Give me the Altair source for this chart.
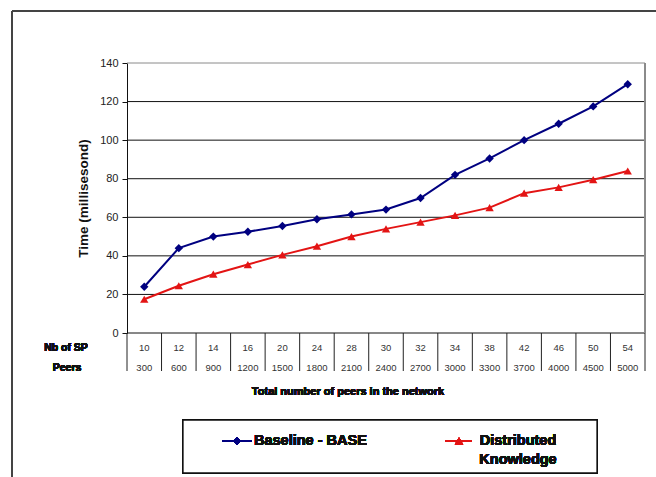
import altair as alt
import pandas as pd

# Super-peer counts and total peers for each test run (two-row category axis)
nb_sp = [10, 12, 14, 16, 20, 24, 28, 30, 32, 34, 38, 42, 46, 50, 54]
peers = [300, 600, 900, 1200, 1500, 1800, 2100, 2400, 2700, 3000, 3300, 3700, 4000, 4500, 5000]

# Response time in milliseconds
baseline = [24, 44, 50, 52.5, 55.5, 59, 61.5, 64, 70, 82, 90.5, 100, 108.5, 117.5, 129]
distributed = [17.5, 24.5, 30.5, 35.5, 40.5, 45, 50, 54, 57.5, 61, 65, 72.5, 75.5, 79.5, 84]

# Y-axis tick values
y_ticks = [0, 20, 40, 60, 80, 100, 120, 140]

S_BASE = "Baseline - BASE"
S_DIST = "Distributed Knowledge"
BLUE = "#000080"
RED = "#E31414"
FONT = "Arial"

W, H = 518, 270
n = len(nb_sp)

rows = []
for i in range(n):
    rows.append({"idx": i + 0.5, "time": baseline[i], "series": S_BASE})
    rows.append({"idx": i + 0.5, "time": distributed[i], "series": S_DIST})
df = pd.DataFrame(rows)

table = pd.DataFrame({"idx": [i + 0.5 for i in range(n)], "nb_sp": nb_sp, "peers": peers})
bounds = pd.DataFrame({"b": list(range(n + 1))})
grid = pd.DataFrame({"v": y_ticks})

xs = alt.Scale(domain=[0, n], nice=False, zero=False)
ys = alt.Scale(domain=[0, 140], nice=False)
color = alt.Scale(domain=[S_BASE, S_DIST], range=[BLUE, RED])
shape = alt.Scale(domain=[S_BASE, S_DIST], range=["diamond", "triangle-up"])

# Horizontal gridlines (top one is the lighter plot border) plus the y axis
grid_lines = alt.Chart(grid).mark_rule(strokeWidth=1).encode(
    y=alt.Y(
        "v:Q",
        scale=ys,
        axis=alt.Axis(
            values=y_ticks,
            tickCount=len(y_ticks),
            grid=False,
            labelOverlap=False,
            domainColor="#111111",
            tickColor="#111111",
            tickSize=5,
            labelFont=FONT,
            labelFontSize=11,
            labelColor="#222222",
            labelPadding=4,
            title="Time (millisesond)",
            titleFont=FONT,
            titleFontSize=13.5,
            titleFontWeight="bold",
            titleColor="#111111",
            titleX=-44,
            titleY=H / 2,
            titleAlign="center",
            titleBaseline="middle",
        ),
    ),
    x=alt.value(0),
    x2=alt.value(W),
    color=alt.condition("datum.v === 140", alt.value("#8a8a8a"), alt.value("#111111")),
)

base = alt.Chart(df)

lines = base.mark_line(strokeWidth=2).encode(
    x=alt.X("idx:Q", scale=xs, axis=None),
    y=alt.Y("time:Q", scale=ys),
    color=alt.Color("series:N", scale=color, legend=None),
    detail="series:N",
)

points = base.mark_point(filled=True, opacity=1).encode(
    x=alt.X("idx:Q", scale=xs),
    y=alt.Y("time:Q", scale=ys),
    color=alt.Color("series:N", scale=color, legend=None),
    shape=alt.Shape("series:N", scale=shape, legend=None),
    size=alt.value(70),
)

# Category table below the plot
row1 = alt.Chart(table).mark_text(font=FONT, fontSize=9.5, color="#333333", baseline="middle").encode(
    x=alt.X("idx:Q", scale=xs), y=alt.value(285), text="nb_sp:N"
)
row2 = alt.Chart(table).mark_text(font=FONT, fontSize=9.5, color="#333333", baseline="middle").encode(
    x=alt.X("idx:Q", scale=xs), y=alt.value(305), text="peers:N"
)
seps = alt.Chart(bounds).mark_rule(color="#222222", strokeWidth=1).encode(
    x=alt.X("b:Q", scale=xs), y=alt.value(H), y2=alt.value(H + 38)
)
right_border = alt.Chart(bounds).mark_rule(color="#8a8a8a", strokeWidth=1).encode(
    x=alt.value(W), y=alt.value(0), y2=alt.value(H)
)

label_style = dict(font=FONT, fontWeight="bold", color="#111111", baseline="middle", align="center")
lab_sp = alt.Chart(table).mark_text(fontSize=10.5, **label_style).encode(
    x=alt.value(-61), y=alt.value(285), text=alt.value("Nb of SP")
)
lab_peers = alt.Chart(table).mark_text(fontSize=10.5, **label_style).encode(
    x=alt.value(-60), y=alt.value(305), text=alt.value("Peers")
)
x_title = alt.Chart(table).mark_text(fontSize=11, **label_style).encode(
    x=alt.value(221), y=alt.value(329), text=alt.value("Total number of peers in the network")
)

# Outer frame (left and top edges)
frame_v = alt.Chart(bounds).mark_rule(color="#444444", strokeWidth=1.5).encode(
    x=alt.value(-115), y=alt.value(-52), y2=alt.value(420)
)
frame_h = alt.Chart(bounds).mark_rule(color="#444444", strokeWidth=1.5).encode(
    x=alt.value(-115), x2=alt.value(540), y=alt.value(-52)
)

# Legend box
leg_font = dict(font=FONT, fontSize=14.5, fontWeight="bold", color="#111111", baseline="middle")
leg_box = alt.Chart(bounds).mark_rect(fill="white", stroke="#111111", strokeWidth=1.3).encode(
    x=alt.value(56), x2=alt.value(470), y=alt.value(357), y2=alt.value(410)
)
leg_line_b = alt.Chart(bounds).mark_rule(color=BLUE, strokeWidth=2).encode(
    x=alt.value(95), x2=alt.value(125), y=alt.value(378)
)
leg_pt_b = alt.Chart(bounds).mark_point(filled=True, opacity=1, shape="diamond", color=BLUE, size=60).encode(
    x=alt.value(110), y=alt.value(378)
)
leg_txt_b = alt.Chart(bounds).mark_text(align="left", **leg_font).encode(
    x=alt.value(127), y=alt.value(378), text=alt.value(S_BASE)
)
leg_line_r = alt.Chart(bounds).mark_rule(color=RED, strokeWidth=2).encode(
    x=alt.value(318), x2=alt.value(345), y=alt.value(378)
)
leg_pt_r = alt.Chart(bounds).mark_point(filled=True, opacity=1, shape="triangle-up", color=RED, size=70).encode(
    x=alt.value(332), y=alt.value(378)
)
leg_txt_r1 = alt.Chart(bounds).mark_text(align="center", **leg_font).encode(
    x=alt.value(391), y=alt.value(378), text=alt.value(S_DIST.split(" ")[0])
)
leg_txt_r2 = alt.Chart(bounds).mark_text(align="center", **leg_font).encode(
    x=alt.value(391), y=alt.value(397), text=alt.value(S_DIST.split(" ")[1])
)

chart = alt.layer(
    frame_v, frame_h,
    grid_lines, lines, points,
    right_border, seps, row1, row2, lab_sp, lab_peers, x_title,
    leg_box, leg_line_b, leg_pt_b, leg_txt_b, leg_line_r, leg_pt_r, leg_txt_r1, leg_txt_r2,
).properties(
    width=W,
    height=H,
    autosize=alt.AutoSizeParams(type="none"),
    padding={"left": 127, "top": 63, "right": 11, "bottom": 144},
    background="white",
).configure_view(stroke=None)

chart.save("out.html", embed_options={"renderer": "svg", "actions": False})
